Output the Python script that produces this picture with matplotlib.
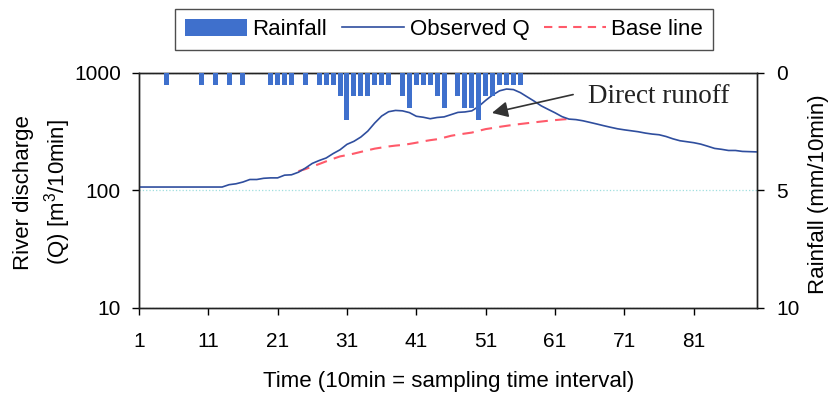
import matplotlib
matplotlib.use("Agg")
import matplotlib.pyplot as plt
from matplotlib.patches import Patch
from matplotlib.lines import Line2D
import numpy as np

plt.rcParams['font.family'] = ['Liberation Sans', 'DejaVu Sans']
plt.rcParams['mathtext.fontset'] = 'custom'
plt.rcParams['mathtext.rm'] = 'Liberation Sans'
plt.rcParams['mathtext.it'] = 'Liberation Sans'

# time steps (10 min each)
time = list(range(1, 91))

# observed river discharge Q [m3/10min]
observed_q = [107, 107, 107, 107, 107, 107, 107, 107, 107, 107, 107, 107, 107,
              112, 114, 118, 124, 124, 127, 128, 128, 135, 136,
              143, 155, 170, 180, 189, 206, 222, 247, 262, 285,
              320, 375, 430, 468, 480, 476, 460, 428, 420, 408,
              418, 423, 442, 462, 466, 476, 520, 585, 650, 705,
              730, 722, 680, 625, 575, 525, 490, 458, 425, 405,
              401, 392, 380, 368, 356, 345, 335, 328, 322, 316,
              308, 302, 298, 288, 275, 265, 260, 255, 248, 238,
              228, 224, 219, 219, 215, 214, 213]

# base flow separation line
base_t = list(range(24, 64))
base_q = [146, 152, 160, 168, 177, 186, 195, 200, 206, 213,
          220, 227, 232, 237, 241, 244, 249, 255, 262, 268,
          273, 282, 292, 299, 305, 311, 322, 333, 340, 348,
          355, 362, 368, 374, 380, 386, 392, 397, 402, 406]

# rainfall (mm/10min)
rain_t = [5, 10, 12, 14, 16, 20, 21, 22, 23, 25, 27, 28, 29,
          30, 31, 32, 33, 34, 35, 36, 37,
          39, 40, 41, 42, 43, 44, 45,
          47, 48, 49, 50, 51, 52, 53, 54, 55, 56]
rain_mm = [0.5, 0.5, 0.5, 0.5, 0.5, 0.5, 0.5, 0.5, 0.5, 0.5, 0.5, 0.5, 0.5,
           1.0, 2.0, 1.0, 1.0, 1.0, 0.5, 0.5, 0.5,
           1.0, 1.5, 0.5, 0.5, 0.5, 1.0, 1.5,
           1.0, 1.5, 1.5, 2.0, 1.0, 1.0, 0.5, 0.5, 0.5, 0.5]

xticks = [1, 11, 21, 31, 41, 51, 61, 71, 81]

bar_col = '#3f70cc'
line_col = '#2f4e9e'
base_col = '#ff5a6a'

fig = plt.figure(figsize=(8.33, 3.97), dpi=100)
ax = fig.add_axes([0.1667, 0.2242, 0.742, 0.592])

ax.plot(time, observed_q, color=line_col, lw=1.2, zorder=3)
ax.plot(base_t, base_q, color=base_col, lw=1.5, dashes=(5.5, 3.5), zorder=2)

ax.set_yscale('log')
ax.set_ylim(10, 1000)
ax.set_yticks([10, 100, 1000])
ax.set_yticklabels(['10', '100', '1000'])
ax.minorticks_off()
ax.set_xlim(1, 90.1)
ax.set_xticks(xticks)
ax.yaxis.grid(True, color='#9fdede', linestyle=':', lw=0.9)
ax.tick_params(axis='x', direction='out', length=5, width=1, pad=12, labelsize=15)
ax.tick_params(axis='y', direction='out', length=5, width=1, pad=8, labelsize=15)
for s in ax.spines.values():
    s.set_linewidth(1.0)
    s.set_color('#222222')

ax2 = ax.twinx()
ax2.bar(rain_t, rain_mm, width=0.72, color=bar_col, zorder=4)
ax2.set_ylim(10, 0)
ax2.set_yticks([0, 5, 10])
ax2.set_yticklabels(['0', '5', '10'])
ax2.tick_params(axis='y', direction='out', length=5, width=1, pad=9, labelsize=15)
for s in ax2.spines.values():
    s.set_linewidth(1.0)
    s.set_color('#222222')

ax.annotate('', xy=(51.9, 457), xytext=(63.6, 655),
            arrowprops=dict(arrowstyle='-|>', color='#333333', lw=1.2,
                            mutation_scale=24, shrinkA=0, shrinkB=0))
ax.text(65.7, 625, 'Direct runoff', family='Liberation Serif', fontsize=19.5,
        ha='left', va='center', color='#222222')

fig.text(0.052, 0.515, 'River discharge\n(Q) [m$^{3}$/10min]', rotation=90,
         ha='center', va='center', fontsize=16, linespacing=1.35, multialignment='center')
fig.text(0.983, 0.512, 'Rainfall (mm/10min)', rotation=90,
         ha='center', va='center', fontsize=16)
fig.text(0.538, 0.04, 'Time (10min = sampling time interval)',
         ha='center', va='center', fontsize=16)

handles = [Patch(facecolor=bar_col, edgecolor='none'),
           Line2D([], [], color=line_col, lw=1.2),
           Line2D([], [], color=base_col, lw=1.5, dashes=(4, 3))]
leg = fig.legend(handles, ['Rainfall', 'Observed Q', 'Base line'], ncol=3,
                 loc='center', bbox_to_anchor=(0.533, 0.926), fontsize=16,
                 frameon=True, fancybox=False, handlelength=2.8, handleheight=0.8,
                 columnspacing=0.65, handletextpad=0.25, borderpad=0.45)
leg.get_frame().set_edgecolor('#222222')
leg.get_frame().set_linewidth(1.0)

fig.savefig('out.png', dpi=100)
